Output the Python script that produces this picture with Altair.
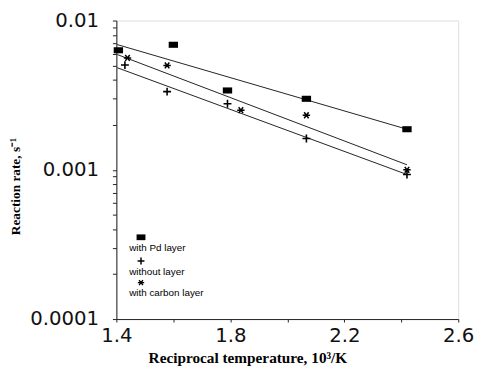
import altair as alt
import pandas as pd

# Data
pd_x = [1.407, 1.60, 1.79, 2.067, 2.42]
pd_y = [0.00632, 0.00688, 0.00340, 0.00299, 0.00187]

no_x = [1.43, 1.578, 1.79, 2.067, 2.42]
no_y = [0.00503, 0.00334, 0.00277, 0.00162, 0.00093]

c_x = [1.439, 1.578, 1.837, 2.067, 2.42]
c_y = [0.00562, 0.00500, 0.00251, 0.00232, 0.00100]

# fitted lines (endpoints)
fit_x = [1.403, 2.42]
fit_pd = [0.00690, 0.00187]
fit_no = [0.00483, 0.00093]
fit_c = [0.00592, 0.00108]

series = ["with Pd layer", "without layer", "with carbon layer"]

pts = pd.concat([
    pd.DataFrame({"x": pd_x, "y": pd_y, "s": series[0]}),
    pd.DataFrame({"x": no_x, "y": no_y, "s": series[1]}),
    pd.DataFrame({"x": c_x, "y": c_y, "s": series[2]}),
])
fits = pd.concat([
    pd.DataFrame({"x": fit_x, "y": fit_pd, "s": series[0]}),
    pd.DataFrame({"x": fit_x, "y": fit_no, "s": series[1]}),
    pd.DataFrame({"x": fit_x, "y": fit_c, "s": series[2]}),
])

RECT = "M-1,-0.65L1,-0.65L1,0.65L-1,0.65Z"
PLUS = "M-1,0L1,0M0,-1L0,1"
STAR = "M-1,0L1,0M-0.6,-0.8L0.6,0.8M-0.6,0.8L0.6,-0.8"

y_ticks = []
for d in [0.0001, 0.001]:
    for k in range(1, 10):
        y_ticks.append(round(d * k, 6))
y_ticks.append(0.01)
x_ticks = [1.4, 1.6, 1.8, 2.0, 2.2, 2.4, 2.6]

xscale = alt.Scale(domain=[1.4, 2.6], nice=False, zero=False)
yscale = alt.Scale(type="log", domain=[0.0001, 0.01], nice=False)

TICKFONT = "DejaVu Sans"

X = alt.X("x:Q", scale=xscale, axis=alt.Axis(
    values=x_ticks,
    labelExpr="abs((datum.value-1.4)/0.4 - round((datum.value-1.4)/0.4)) < 0.01 ? format(datum.value,'.1f') : ''",
    title="Reciprocal temperature, 10³/K",
    titleFont="Liberation Serif", titleFontWeight="bold", titleFontSize=15.5,
    titleColor="#000", titleX=133, titleY=44, titleAnchor="middle", titleAlign="center",
    titleBaseline="alphabetic",
    labelFont=TICKFONT, labelFontSize=20, labelColor="#111",
    labelPadding=4, tickSize=3, tickColor="#222", domainColor="#222",
    grid=False, labelFlush=False, labelOverlap=False))

Y = alt.Y("y:Q", scale=yscale, axis=alt.Axis(
    values=y_ticks, format="~g",
    labelExpr="abs(log(datum.value)/LN10 - round(log(datum.value)/LN10)) < 0.01 ? datum.label : ''",
    title="Reaction rate, s⁻¹",
    titleFont="Liberation Serif", titleFontWeight="bold", titleFontSize=13.5,
    titleColor="#000", titleX=-102, titleY=168, titleAngle=270, titleAlign="center",
    titleBaseline="middle",
    labelFont=TICKFONT, labelFontSize=20, labelColor="#111",
    labelPadding=14, tickSize=4, tickColor="#222", domainColor="#222",
    grid=False, labelFlush=False, labelOverlap=False))

lines = alt.Chart(fits).mark_line(color="#222", strokeWidth=1).encode(
    x=X, y=Y, detail="s:N")

base = alt.Chart(pts)
sq = base.transform_filter(alt.datum.s == series[0]).mark_point(
    shape=RECT, size=90, filled=True, color="#000", opacity=1).encode(x=X, y=Y)
pl = base.transform_filter(alt.datum.s == series[1]).mark_point(
    shape=PLUS, size=64, filled=False, color="#000", strokeWidth=1.6, opacity=1).encode(x=X, y=Y)
st = base.transform_filter(alt.datum.s == series[2]).mark_point(
    shape=STAR, size=56, filled=False, color="#000", strokeWidth=1.5, opacity=1).encode(x=X, y=Y)

# manual legend (symbol above its label, as in the reference)
leg = pd.DataFrame({"s": series})
def leg_sym(i, shape, size, filled, sw, yy):
    return alt.Chart(leg).transform_filter(alt.datum.s == series[i]).mark_point(
        shape=shape, size=size, filled=filled, color="#000", strokeWidth=sw, opacity=1
    ).encode(x=alt.value(25), y=alt.value(yy))
def leg_txt(i, yy):
    return alt.Chart(leg).transform_filter(alt.datum.s == series[i]).mark_text(
        align="left", baseline="middle", font="Liberation Sans", fontSize=10, color="#000"
    ).encode(x=alt.value(13), y=alt.value(yy), text="s:N")

legend = (leg_sym(0, RECT, 81, True, 1, 220) + leg_txt(0, 231) +
          leg_sym(1, PLUS, 49, False, 1.5, 244) + leg_txt(1, 255) +
          leg_sym(2, STAR, 42, False, 1.4, 266) + leg_txt(2, 277))

chart = (lines + sq + pl + st + legend).properties(
    width=347, height=303,
    autosize=alt.AutoSizeParams(type="none"),
    padding={"left": 110, "top": 10, "right": 17, "bottom": 50},
).configure_view(stroke="#222", strokeWidth=1).configure(background="white")

chart.save("out.html", embed_options={"renderer": "svg", "actions": False})
